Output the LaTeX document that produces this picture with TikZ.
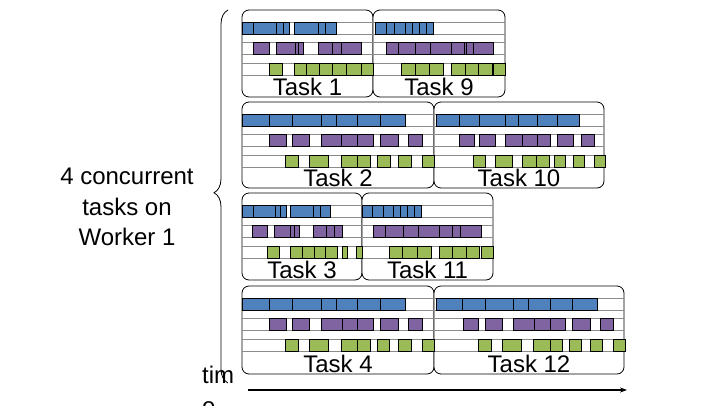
\documentclass[tikz,border=0pt]{standalone}
\usepackage{fontspec}
\setmainfont{Liberation Sans}
\usetikzlibrary{positioning,decorations.pathreplacing,arrows.meta}

\definecolor{taskblue}{HTML}{4F81BD}
\definecolor{taskpurple}{HTML}{8064A2}
\definecolor{taskgreen}{HTML}{9BBB59}

\tikzset{
  panel/.style={draw=black, line width=0.8pt, fill=white, rounded corners=7pt,
    inner sep=0pt, outer sep=0pt, minimum height=87pt, anchor=north west},
  tasklabel/.style={anchor=base, inner sep=0pt, font=\fontsize{24}{28}\selectfont},
  note/.style={inner sep=0pt, align=center, font=\fontsize{24}{30.5}\selectfont},
  gridline/.style={draw=black!45, line width=0.6pt},
  seg/.style={draw=black, line width=0.8pt},
  timeaxis/.style={line width=1.5pt, -{Stealth[length=7pt,width=5pt]}},
}

\newcommand\barrow[4]{%
  \foreach \a/\b in {#3} \draw[seg, fill=#1] (\a,#2) rectangle (\b,#2+12);
  \foreach \d in {#4} \draw[seg] (\d,#2) -- (\d,#2+12);
}

\begin{document}
\begin{tikzpicture}[x=1pt, y=-1pt]
\useasboundingbox (0,0) rectangle (720,405);

\node[panel, minimum width=131pt] (t1) at (242,10) {};
\node[panel, minimum width=132pt, right=0pt of t1] (t9) {};
\node[panel, minimum width=192pt, minimum height=86pt] (t2) at (242,102) {};
\node[panel, minimum width=170pt, minimum height=86pt, right=0pt of t2] (t10) {};
\node[panel, minimum width=120pt] (t3) at (242,193) {};
\node[panel, minimum width=131pt, right=0pt of t3] (t11) {};
\node[panel, minimum width=192pt, minimum height=88pt] (t4) at (242,286) {};
\node[panel, minimum width=190pt, minimum height=88pt, right=0pt of t4] (t12) {};

\foreach \t in {t1,t9,t2,t10,t3,t11,t4,t12}
  \foreach \dy in {12,24,32,44,53,65}
    \draw[gridline] ([yshift=-\dy pt]\t.north west) -- ([yshift=-\dy pt]\t.north east);

% Task 1
\barrow{taskblue}{22}{242/289.5,294.5/336.5}{253.3,276.5,283,318.3,325.5}
\barrow{taskpurple}{42}{253.3/269.3,276.5/303.5,318.3/361}{295,298.7,332.7,341}
\barrow{taskgreen}{63}{269.3/282.5,294.3/373}{306.7,319.3,332.7,346,361.3}
% Task 9
\barrow{taskblue}{22}{375.5/433}{386.2,394.2,405.5,412.5,419.8,426.5}
\barrow{taskpurple}{42}{386.5/493.5}{398,415.7,430.7,451,464.7,466.5,473}
\barrow{taskgreen}{63}{401.5/443,451.5/492,493.5/505}{415.2,429.5,465,478}
% Task 2
\barrow{taskblue}{114}{242/405.7}{269.3,292.7,321.7,336.7,357.7,380.7}
\barrow{taskpurple}{134}{269.3/286,292.7/309.3,321.7/373.3,380.7/398.3,408.3/422.7}{341.7,357.7}
\barrow{taskgreen}{155}{285/298.3,309.3/328.3,341.7/370,377.3/390,398.3/411.7,422.7/434}{357.3}
% Task 10
\barrow{taskblue}{114}{436/579.3}{459.3,479.3,505.7,518.7,537.3,557.3}
\barrow{taskpurple}{134}{459.3/474,479.3/495.7,505.7/550.7,557.3/573.3,581.7/594}{522,537.3}
\barrow{taskgreen}{155}{473.3/485,495.7/512,522/549,554.3/565,573.3/584,594.3/605}{536}
% Task 3
\barrow{taskblue}{205}{242/286.5,290.2/330.3}{253,275,280,313.3,320}
\barrow{taskpurple}{225}{252.7/267.7,274.3/299.3,313.3/342}{290.3,294.3,326,334.3}
\barrow{taskgreen}{246}{267.2/279.6,290.2/337.7,342.3/347.7,356/362}{302.2,314,325.5}
% Task 11
\barrow{taskblue}{205}{362.2/421.2}{372.4,383.2,393.5,400.2,407.2,414.5}
\barrow{taskpurple}{225}{373.5/481}{385.2,403.5,418.5,439,452.3,460.2}
\barrow{taskgreen}{246}{389.5/431.5,439.4/479.5,481.8/493}{402.8,417.2,452.8,466.2}
% Task 4
\barrow{taskblue}{298}{242/405.3}{269.3,292.7,321.7,336.7,357.7,380.3}
\barrow{taskpurple}{318}{269.3/286,292.3/309.3,321.7/373.3,380.3/398.3,408.3/422}{342,357.7}
\barrow{taskgreen}{339}{285.3/298.7,309.3/328.3,341.7/370,377.7/389.3,398.7/411.7,422.7/434}{357}
% Task 12
\barrow{taskblue}{298}{436/597.3}{462.5,485.7,513.7,528.7,550.7,572.7}
\barrow{taskpurple}{318}{463.3/478.3,485.7/502.7,513.3/565,572.3/590.7,600/613.3}{534,550.7}
\barrow{taskgreen}{339}{478.3/491.7,502.3/521.7,533.3/562.7,569.3/581.7,590.7/602.7,613.3/625}{550}

\node[tasklabel] (l1) at ([yshift=1.5pt]t1.south) {Task 1};
\node[tasklabel] (l9) at ([yshift=1.5pt]t9.south) {Task 9};
\node[tasklabel] (l2) at ([yshift=1.5pt]t2.south) {Task 2};
\node[tasklabel] (l10) at ([yshift=1.5pt]t10.south) {Task 10};
\node[tasklabel] (l3) at ([yshift=1.5pt]t3.south) {Task 3};
\node[tasklabel] (l11) at ([yshift=1.5pt]t11.south) {Task 11};
\node[tasklabel] (l4) at ([yshift=1.5pt]t4.south) {Task 4};
\node[tasklabel] (l12) at ([yshift=1.5pt]t12.south) {Task 12};

\node[note] (worker) at (127,207) {4 concurrent\\tasks on\\Worker 1};
\node[note, align=left, anchor=base west] (timelbl) at (202,414) {tim\\e};

\coordinate (bracebot) at (228,383);
\coordinate (bracetop) at (228,10);
\draw[line width=0.8pt, decorate, decoration={brace, amplitude=14pt, aspect=0.51}] (bracebot) -- (bracetop);

\coordinate (tstart) at (248,390);
\coordinate (tend) at (627,390);
\draw[timeaxis] (tstart) -- (tend);
\end{tikzpicture}
\end{document}
